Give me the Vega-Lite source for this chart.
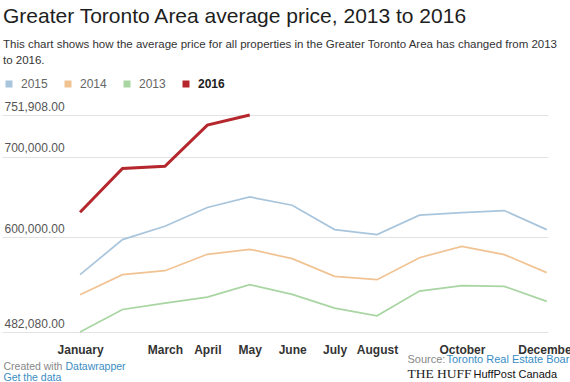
{
  "$schema": "https://vega.github.io/schema/vega-lite/v6.json",
  "width": 546,
  "height": 217,
  "autosize": {"type": "none"},
  "padding": {"left": 2, "top": 115, "right": 22, "bottom": 50},
  "background": "white",
  "config": {"view": {"stroke": null}, "font": "Liberation Sans"},
  "title": {
    "text": "Greater Toronto Area average price, 2013 to 2016",
    "subtitle": ["This chart shows how the average price for all properties in the Greater Toronto Area has changed from 2013", "to 2016."],
    "anchor": "start",
    "frame": "group",
    "offset": 12,
    "dx": 1,
    "font": "Liberation Sans",
    "fontSize": 21,
    "fontWeight": "normal",
    "color": "#1e1e1e",
    "subtitleFont": "Liberation Sans",
    "subtitleFontSize": 11.5,
    "subtitleColor": "#333333",
    "subtitleLineHeight": 16,
    "subtitlePadding": 12
  },
  "data": {"values": [
    {"year": "2016", "m": 1, "price": 631000},
    {"year": "2016", "m": 2, "price": 685500},
    {"year": "2016", "m": 3, "price": 688200},
    {"year": "2016", "m": 4, "price": 739300},
    {"year": "2016", "m": 5, "price": 751908},
    {"year": "2015", "m": 1, "price": 553400},
    {"year": "2015", "m": 2, "price": 597000},
    {"year": "2015", "m": 3, "price": 613500},
    {"year": "2015", "m": 4, "price": 636900},
    {"year": "2015", "m": 5, "price": 650000},
    {"year": "2015", "m": 6, "price": 639700},
    {"year": "2015", "m": 7, "price": 609400},
    {"year": "2015", "m": 8, "price": 603200},
    {"year": "2015", "m": 9, "price": 627300},
    {"year": "2015", "m": 10, "price": 630600},
    {"year": "2015", "m": 11, "price": 633100},
    {"year": "2015", "m": 12, "price": 609400},
    {"year": "2014", "m": 1, "price": 528400},
    {"year": "2014", "m": 2, "price": 553400},
    {"year": "2014", "m": 3, "price": 558300},
    {"year": "2014", "m": 4, "price": 578700},
    {"year": "2014", "m": 5, "price": 584900},
    {"year": "2014", "m": 6, "price": 573300},
    {"year": "2014", "m": 7, "price": 551300},
    {"year": "2014", "m": 8, "price": 547100},
    {"year": "2014", "m": 9, "price": 574500},
    {"year": "2014", "m": 10, "price": 588600},
    {"year": "2014", "m": 11, "price": 578300},
    {"year": "2014", "m": 12, "price": 555900},
    {"year": "2013", "m": 1, "price": 482080},
    {"year": "2013", "m": 2, "price": 510100},
    {"year": "2013", "m": 3, "price": 518000},
    {"year": "2013", "m": 4, "price": 525500},
    {"year": "2013", "m": 5, "price": 540900},
    {"year": "2013", "m": 6, "price": 528800},
    {"year": "2013", "m": 7, "price": 511700},
    {"year": "2013", "m": 8, "price": 502300},
    {"year": "2013", "m": 9, "price": 532900},
    {"year": "2013", "m": 10, "price": 539700},
    {"year": "2013", "m": 11, "price": 538800},
    {"year": "2013", "m": 12, "price": 520100}
  ]},
  "encoding": {
    "color": {
      "field": "year",
      "type": "nominal",
      "scale": {"domain": ["2015", "2014", "2013", "2016"], "range": ["#a9c5dc", "#f1c393", "#a8d5a2", "#b5272d"]},
      "legend": {
        "orient": "none",
        "legendX": 1,
        "legendY": -37,
        "direction": "horizontal",
        "title": null,
        "padding": 0,
        "symbolType": "square",
        "symbolSize": 49,
        "symbolStrokeWidth": 0,
        "labelFont": "Liberation Sans",
        "labelFontSize": 12,
        "labelColor": "#666666",
        "labelOffset": 6,
        "columnPadding": 14,
        "encode": {
          "symbols": {"update": {"fill": {"scale": "color", "field": "value"}, "strokeWidth": {"value": 0}, "opacity": {"value": 1}}},
          "labels": {"update": {"fontWeight": {"signal": "datum.value === '2016' ? 'bold' : 'normal'"}, "fill": {"signal": "datum.value === '2016' ? '#222222' : '#666666'"}}}
        }
      }
    }
  },
  "layer": [
    {
      "transform": [{"filter": "datum.year === '2015'"}],
      "mark": {"type": "line", "strokeWidth": 1.7},
      "encoding": {
        "x": {"field": "m", "type": "quantitative", "scale": {"domain": [-0.84, 12.03], "nice": false, "zero": false},
          "axis": {"orient": "bottom", "values": [1, 3, 4, 5, 6, 7, 8, 10, 12],
            "labelExpr": "['','January','February','March','April','May','June','July','August','September','October','November','December'][datum.value]",
            "grid": false, "domain": false, "ticks": false, "tickSize": 0,
            "labelFont": "Liberation Sans", "labelFontSize": 12, "labelFontWeight": "bold", "labelColor": "#333333",
            "labelBaseline": "alphabetic", "labelPadding": 21, "labelFlush": false, "labelOverlap": false, "labelBound": false,
            "title": "Source: ", "titleX": 405, "titleY": 30, "titleAlign": "left", "titleBaseline": "alphabetic",
            "titleFont": "Liberation Sans", "titleFontSize": 11, "titleFontWeight": "normal", "titleColor": "#888888"}},
        "y": {"field": "price", "type": "quantitative", "scale": {"domain": [482080, 751908], "nice": false, "zero": false},
          "axis": {"orient": "left", "values": [482080, 600000, 700000, 751908], "format": ",.2f",
            "grid": true, "gridColor": "#e3e3e3", "gridWidth": 1, "domain": false, "ticks": false, "tickSize": 0,
            "labelAlign": "left", "labelPadding": -2, "labelBaseline": "alphabetic", "labelOffset": -5,
            "labelFont": "Liberation Sans", "labelFontSize": 12, "labelColor": "#555555", "labelBound": false, "labelFlush": false, "labelOverlap": false,
            "title": "Created with ", "titleX": 1, "titleY": 254, "titleAngle": 0, "titleAlign": "left", "titleBaseline": "alphabetic",
            "titleFont": "Liberation Sans", "titleFontSize": 10.5, "titleFontWeight": "normal", "titleColor": "#888888"}}
      }
    },
    {
      "transform": [{"filter": "datum.year === '2014'"}],
      "mark": {"type": "line", "strokeWidth": 1.7},
      "encoding": {
        "x": {"field": "m", "type": "quantitative", "scale": {"domain": [-0.84, 12.03], "nice": false, "zero": false},
          "axis": {"orient": "bottom", "labels": false, "grid": false, "domain": false, "ticks": false,
            "title": "Toronto Real Estate Board,", "titleX": 444, "titleY": 30, "titleAlign": "left", "titleBaseline": "alphabetic",
            "titleFont": "Liberation Sans", "titleFontSize": 11, "titleFontWeight": "normal", "titleColor": "#3a8dc4"}},
        "y": {"field": "price", "type": "quantitative", "scale": {"domain": [482080, 751908], "nice": false, "zero": false},
          "axis": {"orient": "left", "labels": false, "grid": false, "domain": false, "ticks": false,
            "title": "Datawrapper", "titleX": 63, "titleY": 254, "titleAngle": 0, "titleAlign": "left", "titleBaseline": "alphabetic",
            "titleFont": "Liberation Sans", "titleFontSize": 10.5, "titleFontWeight": "normal", "titleColor": "#3a8dc4"}}
      }
    },
    {
      "transform": [{"filter": "datum.year === '2013'"}],
      "mark": {"type": "line", "strokeWidth": 1.7},
      "encoding": {
        "x": {"field": "m", "type": "quantitative", "scale": {"domain": [-0.84, 12.03], "nice": false, "zero": false},
          "axis": {"orient": "bottom", "labels": false, "grid": false, "domain": false, "ticks": false,
            "title": "THE HUFF", "titleX": 405, "titleY": 45, "titleAlign": "left", "titleBaseline": "alphabetic",
            "titleFont": "Liberation Serif", "titleFontSize": 13.5, "titleFontWeight": "normal", "titleColor": "#222222"}},
        "y": {"field": "price", "type": "quantitative", "scale": {"domain": [482080, 751908], "nice": false, "zero": false},
          "axis": {"orient": "left", "labels": false, "grid": false, "domain": false, "ticks": false,
            "title": "Get the data", "titleX": 1, "titleY": 265, "titleAngle": 0, "titleAlign": "left", "titleBaseline": "alphabetic",
            "titleFont": "Liberation Sans", "titleFontSize": 10.5, "titleFontWeight": "normal", "titleColor": "#3a8dc4"}}
      }
    },
    {
      "transform": [{"filter": "datum.year === '2016'"}],
      "mark": {"type": "line", "strokeWidth": 3},
      "encoding": {
        "x": {"field": "m", "type": "quantitative", "scale": {"domain": [-0.84, 12.03], "nice": false, "zero": false},
          "axis": {"orient": "bottom", "labels": false, "grid": false, "domain": false, "ticks": false,
            "title": "HuffPost Canada", "titleX": 471, "titleY": 45, "titleAlign": "left", "titleBaseline": "alphabetic",
            "titleFont": "Liberation Sans", "titleFontSize": 11, "titleFontWeight": "normal", "titleColor": "#111111"}},
        "y": {"field": "price", "type": "quantitative", "scale": {"domain": [482080, 751908], "nice": false, "zero": false},
          "axis": {"orient": "left", "labels": false, "grid": false, "domain": false, "ticks": false, "title": null}}
      }
    }
  ],
  "resolve": {"axis": {"x": "independent", "y": "independent"}}
}
